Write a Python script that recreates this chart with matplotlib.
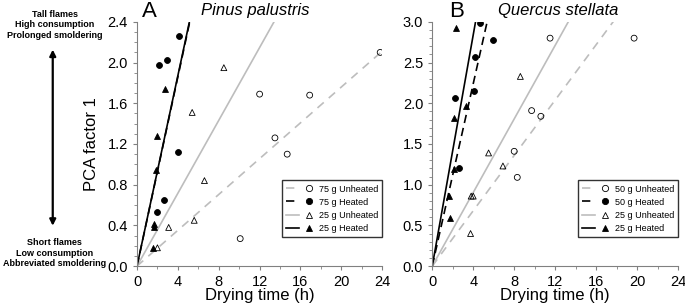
import numpy as np
import matplotlib.pyplot as plt
from matplotlib.ticker import MultipleLocator
from matplotlib.legend_handler import HandlerTuple

plt.rcParams['font.family'] = ['Liberation Sans', 'DejaVu Sans']

# Panel A - Pinus palustris
a_75u_x = [12.0, 16.9, 23.8, 13.5, 14.7, 10.1]
a_75u_y = [1.69, 1.68, 2.10, 1.26, 1.10, 0.27]
a_75h_x = [4.1, 2.2, 2.9, 4.0, 2.65, 2.0]
a_75h_y = [2.26, 1.98, 2.03, 1.12, 0.65, 0.53]
a_25u_x = [8.5, 5.4, 6.6, 5.6, 3.1, 2.0]
a_25u_y = [1.95, 1.51, 0.84, 0.45, 0.38, 0.18]
a_25h_x = [2.7, 2.0, 1.85, 1.67, 1.64, 1.6]
a_25h_y = [1.74, 1.28, 0.94, 0.41, 0.38, 0.18]
a_slopes = [0.088, 0.465, 0.179, 0.468]

# Panel B - Quercus stellata
b_50u_x = [11.5, 19.7, 9.7, 10.6, 8.0, 8.3]
b_50u_y = [2.80, 2.80, 1.91, 1.84, 1.41, 1.09]
b_50h_x = [4.65, 5.9, 4.13, 4.03, 2.18, 2.63]
b_50h_y = [2.98, 2.78, 2.57, 2.15, 2.06, 1.21]
b_25u_x = [8.6, 5.5, 6.9, 3.8, 4.0, 3.74]
b_25u_y = [2.33, 1.39, 1.23, 0.86, 0.86, 0.40]
b_25h_x = [2.28, 3.32, 2.08, 2.1, 1.66, 1.76]
b_25h_y = [2.93, 1.97, 1.82, 1.19, 0.86, 0.59]
b_slopes = [0.17, 0.56, 0.226, 0.71]

light = '#bdbdbd'
axcol = '#808080'

fig = plt.figure(figsize=(6.85, 3.08), dpi=100)
axA = fig.add_axes([0.200, 0.136, 0.358, 0.793])
axB = fig.add_axes([0.631, 0.136, 0.359, 0.793])


def draw_panel(ax, data, slopes, labels, ymax, ystep, yminor):
    styles = [(light, (0, (5, 4))), ('black', (0, (5, 3))),
              (light, '-'), ('black', '-')]
    markers = [('o', 'none'), ('o', 'black'), ('^', 'none'), ('^', 'black')]
    xs = np.array([0, 30])
    handles = []
    for (x, y), s, (col, ls), (mk, fc) in zip(data, slopes, styles, markers):
        ax.plot(xs, s * xs, color=col, ls=ls, lw=1.2)
        ax.scatter(x, y, marker=mk, s=18, facecolors=fc, edgecolors='black',
                   linewidths=0.6, zorder=3)
        hl, = ax.plot([], [], color=col, ls=ls, lw=1.2)
        hm, = ax.plot([], [], ls='none', marker=mk, ms=4.5,
                      mfc=fc, mec='black', mew=0.6)
        handles.append((hl, hm))
    ax.set_xlim(0, 24)
    ax.set_ylim(0, ymax)
    ax.xaxis.set_major_locator(MultipleLocator(4))
    ax.xaxis.set_minor_locator(MultipleLocator(2))
    ax.yaxis.set_major_locator(MultipleLocator(ystep))
    ax.yaxis.set_minor_locator(MultipleLocator(yminor))
    ax.yaxis.set_major_formatter(plt.FormatStrFormatter('%.1f'))
    for sp in ['top', 'right']:
        ax.spines[sp].set_visible(False)
    for sp in ['left', 'bottom']:
        ax.spines[sp].set_color(axcol)
        ax.spines[sp].set_linewidth(0.8)
    ax.tick_params(which='both', color=axcol, labelsize=10.5, direction='out')
    ax.tick_params(which='major', length=3)
    ax.tick_params(which='minor', length=2)
    ax.set_xlabel('Drying time (h)', fontsize=12, labelpad=-1)
    leg = ax.legend(handles=handles, labels=labels, loc='lower right',
                    bbox_to_anchor=(1.0, 0.12), borderaxespad=0,
                    fontsize=6.5, frameon=True, fancybox=False,
                    edgecolor='black', handlelength=3.2, handletextpad=0.4,
                    labelspacing=0.45, borderpad=0.45,
                    handler_map={tuple: HandlerTuple(ndivide=2, pad=0.4)})
    leg.get_frame().set_linewidth(1.0)


draw_panel(axA, [(a_75u_x, a_75u_y), (a_75h_x, a_75h_y),
                 (a_25u_x, a_25u_y), (a_25h_x, a_25h_y)], a_slopes,
           ['75 g Unheated', '75 g Heated', '25 g Unheated', '25 g Heated'],
           2.4, 0.4, 0.1)
draw_panel(axB, [(b_50u_x, b_50u_y), (b_50h_x, b_50h_y),
                 (b_25u_x, b_25u_y), (b_25h_x, b_25h_y)], b_slopes,
           ['50 g Unheated', '50 g Heated', '25 g Unheated', '25 g Heated'],
           3.0, 0.5, 0.1)

axA.set_ylabel('PCA factor 1', fontsize=12, labelpad=6)
fig.text(0.372, 0.965, 'Pinus palustris', fontsize=12, style='italic',
         ha='center', va='center')
fig.text(0.815, 0.965, 'Quercus stellata', fontsize=12, style='italic',
         ha='center', va='center')
fig.text(0.207, 0.962, 'A', fontsize=16, va='center')
fig.text(0.655, 0.962, 'B', fontsize=16, va='center')

fig.text(0.080, 0.919, 'Tall flames\nHigh consumption\nProlonged smoldering',
         ha='center', va='center', fontsize=6.5, fontweight='bold', linespacing=1.2)
fig.text(0.080, 0.178, 'Short flames\nLow consumption\nAbbreviated smoldering',
         ha='center', va='center', fontsize=6.5, fontweight='bold', linespacing=1.2)
fig.add_artist(plt.Annotation('', xy=(0.077, 0.848), xytext=(0.077, 0.258),
                              xycoords='figure fraction',
                              arrowprops=dict(arrowstyle='<|-|>', color='black',
                                              lw=1.6, mutation_scale=9)))

fig.savefig('out.png', dpi=100)
